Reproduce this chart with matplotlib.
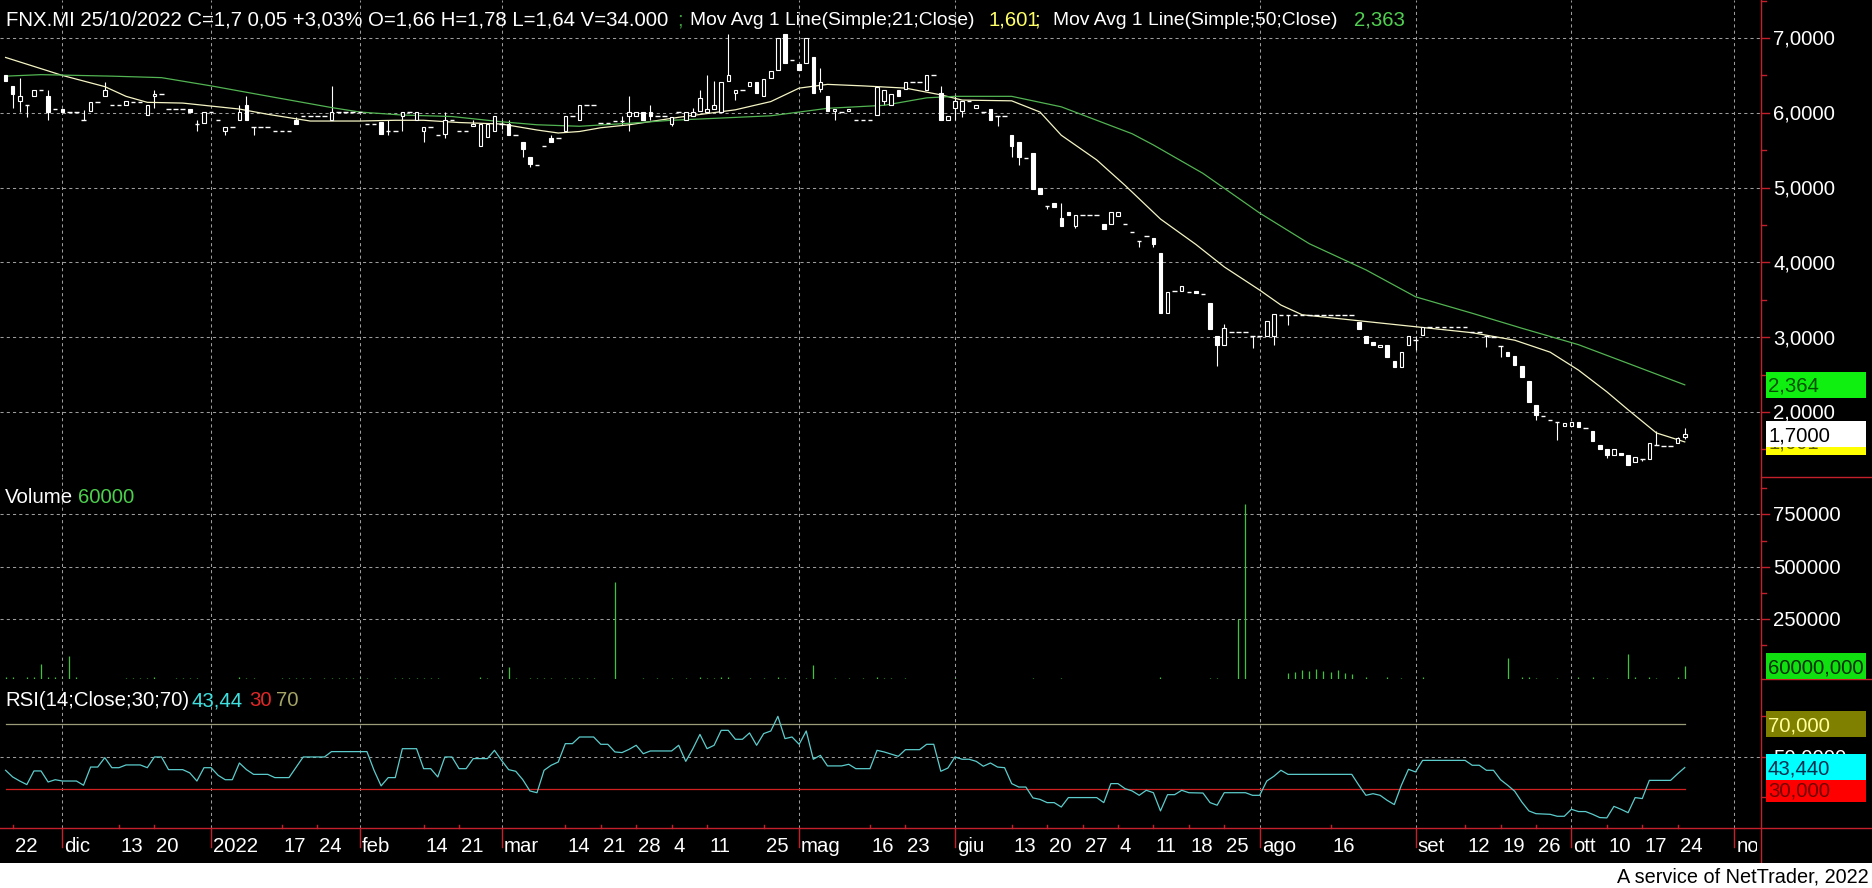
import matplotlib
matplotlib.use("Agg")
import matplotlib.pyplot as plt
from matplotlib.patches import Rectangle
import numpy as np

FONT = ['Liberation Sans', 'DejaVu Sans']
plt.rcParams['font.family'] = FONT

# ---------------- data (bar index 0 = 19/11/2021 ... 237 = 25/10/2022) ----------------
opens = [
 6.50, 6.36, 6.16, 6.10, 6.22, 6.31, 6.22, 6.05, 6.05, 6.01,
 6.01, 5.90, 6.02, 6.15, 6.22, 6.10, 6.10, 6.11, 6.15, 6.15,
 5.97, 6.22, 6.25, 6.05, 6.05, 6.05, 6.05, 5.85, 5.86, 6.01,
 5.90, 5.76, 5.81, 5.90, 6.10, 5.81, 5.81, 5.81, 5.75, 5.75,
 5.75, 5.90, 5.96, 5.96, 5.96, 5.96, 5.90, 6.01, 6.01, 6.01,
 6.01, 5.85, 5.85, 5.88, 5.75, 5.75, 5.96, 6.01, 5.90, 5.76,
 5.81, 5.70, 5.71, 5.90, 5.75, 5.75, 5.82, 5.56, 5.67, 5.76,
 5.85, 5.85, 5.70, 5.61, 5.41, 5.30, 5.55, 5.66, 5.66, 5.76,
 5.96, 5.90, 6.10, 6.10, 5.87, 5.87, 5.89, 5.89, 5.96, 5.96,
 6.01, 6.01, 5.96, 5.96, 5.85, 6.01, 5.90, 5.96, 6.02, 6.01,
 6.05, 6.01, 6.42, 6.26, 6.30, 6.36, 6.41, 6.22, 6.46, 6.57,
 7.05, 6.71, 6.65, 6.66, 6.75, 6.32, 6.22, 6.02, 6.01, 6.02,
 5.90, 5.90, 5.90, 5.97, 6.16, 6.11, 6.31, 6.32, 6.41, 6.41,
 6.31, 6.50, 6.26, 5.91, 6.06, 6.02, 6.16, 6.06, 6.01, 6.05,
 5.96, 5.96, 5.70, 5.61, 5.40, 5.46, 5.00, 4.75, 4.80, 4.59,
 4.68, 4.48, 4.63, 4.63, 4.63, 4.52, 4.52, 4.62, 4.51, 4.41,
 4.28, 4.35, 4.32, 4.12, 3.32, 3.62, 3.62, 3.61, 3.62, 3.58,
 3.46, 3.02, 2.90, 3.07, 3.07, 3.07, 3.01, 3.01, 3.02, 3.02,
 3.30, 3.30, 3.30, 3.30, 3.30, 3.30, 3.30, 3.30, 3.30, 3.30,
 3.30, 3.20, 3.02, 2.93, 2.87, 2.89, 2.68, 2.60, 2.90, 2.96,
 3.03, 3.13, 3.13, 3.13, 3.13, 3.13, 3.13, 3.07, 3.07, 3.02,
 3.00, 2.88, 2.80, 2.75, 2.61, 2.41, 2.09, 1.94, 1.89, 1.86,
 1.81, 1.81, 1.87, 1.79, 1.75, 1.56, 1.51, 1.42, 1.455, 1.42,
 1.33, 1.37, 1.37, 1.56, 1.55, 1.55, 1.59, 1.66]
highs = [
 6.50, 6.36, 6.46, 6.10, 6.31, 6.31, 6.31, 6.05, 6.05, 6.01,
 6.01, 6.04, 6.15, 6.15, 6.41, 6.10, 6.10, 6.16, 6.15, 6.15,
 6.10, 6.31, 6.25, 6.05, 6.05, 6.05, 6.05, 5.90, 6.01, 6.01,
 5.90, 5.81, 5.81, 6.10, 6.22, 5.81, 5.81, 5.81, 5.75, 5.75,
 5.75, 5.95, 5.96, 5.96, 5.96, 5.96, 6.36, 6.01, 6.01, 6.01,
 6.01, 5.85, 5.85, 5.88, 5.90, 5.75, 6.01, 6.01, 6.01, 5.81,
 5.81, 5.70, 6.01, 5.90, 5.75, 5.75, 5.90, 5.85, 5.85, 5.96,
 5.90, 5.90, 5.70, 5.61, 5.41, 5.30, 5.55, 5.70, 5.66, 5.96,
 5.96, 6.10, 6.10, 6.10, 5.87, 5.87, 5.89, 5.96, 6.22, 6.01,
 6.01, 6.10, 5.96, 5.96, 5.95, 6.01, 6.01, 6.06, 6.31, 6.50,
 6.42, 6.41, 7.05, 6.30, 6.30, 6.41, 6.41, 6.45, 6.56, 7.00,
 7.05, 6.71, 6.65, 7.00, 6.75, 6.60, 6.22, 6.05, 6.01, 6.05,
 5.90, 5.90, 5.90, 6.35, 6.31, 6.25, 6.31, 6.41, 6.41, 6.41,
 6.50, 6.50, 6.36, 5.96, 6.24, 6.16, 6.16, 6.10, 6.01, 6.05,
 5.96, 5.96, 5.70, 5.61, 5.40, 5.46, 5.00, 4.75, 4.80, 4.80,
 4.68, 4.63, 4.63, 4.63, 4.63, 4.52, 4.68, 4.68, 4.51, 4.41,
 4.28, 4.35, 4.32, 4.12, 3.61, 3.62, 3.69, 3.61, 3.62, 3.58,
 3.46, 3.02, 3.18, 3.07, 3.07, 3.07, 3.01, 3.01, 3.22, 3.31,
 3.30, 3.30, 3.30, 3.30, 3.30, 3.30, 3.30, 3.30, 3.30, 3.30,
 3.30, 3.20, 3.02, 2.93, 2.89, 2.89, 2.68, 2.80, 3.01, 3.01,
 3.13, 3.13, 3.13, 3.13, 3.13, 3.13, 3.13, 3.07, 3.07, 3.02,
 3.00, 2.88, 2.80, 2.75, 2.61, 2.41, 2.09, 1.94, 1.89, 1.86,
 1.855, 1.87, 1.87, 1.79, 1.75, 1.56, 1.51, 1.51, 1.455, 1.42,
 1.40, 1.37, 1.59, 1.74, 1.55, 1.55, 1.67, 1.78]
lows = [
 6.42, 6.06, 6.01, 5.95, 6.22, 6.31, 5.90, 6.05, 6.01, 6.01,
 6.01, 5.90, 6.02, 6.15, 6.22, 6.10, 6.10, 6.11, 6.15, 6.15,
 5.97, 6.06, 6.25, 6.05, 6.05, 6.05, 6.01, 5.75, 5.86, 6.01,
 5.90, 5.70, 5.81, 5.90, 5.90, 5.70, 5.81, 5.81, 5.75, 5.75,
 5.75, 5.85, 5.96, 5.96, 5.96, 5.96, 5.90, 6.01, 6.01, 6.01,
 6.01, 5.85, 5.85, 5.71, 5.70, 5.75, 5.76, 6.01, 5.90, 5.61,
 5.81, 5.70, 5.66, 5.90, 5.75, 5.75, 5.82, 5.56, 5.67, 5.76,
 5.79, 5.70, 5.70, 5.41, 5.27, 5.30, 5.55, 5.61, 5.66, 5.76,
 5.96, 5.90, 6.10, 6.10, 5.87, 5.87, 5.89, 5.84, 5.76, 5.96,
 5.90, 5.90, 5.96, 5.96, 5.82, 6.01, 5.90, 5.96, 6.02, 6.01,
 6.05, 6.01, 6.42, 6.17, 6.30, 6.36, 6.26, 6.22, 6.46, 6.57,
 6.66, 6.71, 6.57, 6.66, 6.26, 6.28, 6.02, 5.90, 6.01, 6.02,
 5.90, 5.90, 5.90, 5.97, 6.10, 6.11, 6.22, 6.32, 6.41, 6.41,
 6.31, 6.50, 5.90, 5.91, 5.90, 5.95, 6.16, 6.06, 6.01, 5.90,
 5.82, 5.96, 5.41, 5.30, 5.40, 4.98, 4.92, 4.71, 4.745, 4.48,
 4.63, 4.46, 4.63, 4.63, 4.63, 4.44, 4.52, 4.62, 4.51, 4.41,
 4.21, 4.35, 4.20, 3.32, 3.32, 3.62, 3.62, 3.61, 3.585, 3.58,
 3.11, 2.62, 2.90, 3.07, 3.07, 3.07, 2.85, 3.01, 3.02, 2.90,
 3.30, 3.16, 3.30, 3.30, 3.30, 3.30, 3.30, 3.30, 3.30, 3.30,
 3.30, 3.11, 2.92, 2.90, 2.87, 2.73, 2.60, 2.60, 2.90, 2.83,
 3.03, 3.13, 3.13, 3.13, 3.13, 3.13, 3.13, 3.07, 3.07, 2.87,
 3.00, 2.74, 2.75, 2.635, 2.465, 2.14, 1.89, 1.94, 1.89, 1.62,
 1.81, 1.81, 1.80, 1.79, 1.61, 1.50, 1.38, 1.42, 1.42, 1.29,
 1.33, 1.35, 1.37, 1.56, 1.55, 1.55, 1.59, 1.64]
closes = [
 6.42, 6.25, 6.22, 6.10, 6.31, 6.31, 6.01, 6.05, 6.01, 6.01,
 6.01, 5.90, 6.15, 6.15, 6.31, 6.10, 6.10, 6.16, 6.15, 6.15,
 6.10, 6.25, 6.25, 6.05, 6.05, 6.05, 6.01, 5.85, 6.01, 6.01,
 5.90, 5.81, 5.81, 6.01, 5.90, 5.81, 5.81, 5.81, 5.75, 5.75,
 5.75, 5.85, 5.96, 5.96, 5.96, 5.96, 6.01, 6.01, 6.01, 6.01,
 6.01, 5.85, 5.85, 5.71, 5.75, 5.75, 6.01, 6.01, 6.01, 5.81,
 5.81, 5.70, 5.90, 5.90, 5.75, 5.75, 5.85, 5.85, 5.85, 5.96,
 5.85, 5.70, 5.70, 5.51, 5.31, 5.30, 5.55, 5.61, 5.66, 5.96,
 5.96, 6.10, 6.10, 6.10, 5.87, 5.87, 5.89, 5.89, 6.01, 6.01,
 5.90, 5.96, 5.96, 5.96, 5.95, 6.01, 6.01, 6.01, 6.20, 6.05,
 6.10, 6.41, 6.50, 6.30, 6.30, 6.41, 6.26, 6.45, 6.56, 7.00,
 6.66, 6.71, 6.57, 7.00, 6.26, 6.41, 6.02, 6.05, 6.01, 6.05,
 5.90, 5.90, 5.90, 6.35, 6.31, 6.25, 6.22, 6.41, 6.41, 6.41,
 6.50, 6.50, 5.90, 5.96, 6.16, 6.16, 6.16, 6.10, 6.01, 5.90,
 5.96, 5.96, 5.55, 5.41, 5.40, 4.98, 4.92, 4.75, 4.745, 4.48,
 4.63, 4.63, 4.63, 4.63, 4.63, 4.44, 4.68, 4.68, 4.51, 4.41,
 4.28, 4.35, 4.25, 3.32, 3.61, 3.62, 3.69, 3.61, 3.585, 3.58,
 3.11, 2.90, 3.12, 3.07, 3.07, 3.07, 3.01, 3.01, 3.22, 3.31,
 3.30, 3.30, 3.30, 3.30, 3.30, 3.30, 3.30, 3.30, 3.30, 3.30,
 3.30, 3.11, 2.92, 2.90, 2.89, 2.73, 2.60, 2.80, 3.01, 2.96,
 3.13, 3.13, 3.13, 3.13, 3.13, 3.13, 3.13, 3.07, 3.07, 3.02,
 3.00, 2.88, 2.75, 2.635, 2.465, 2.14, 1.96, 1.94, 1.89, 1.86,
 1.855, 1.87, 1.80, 1.79, 1.61, 1.50, 1.42, 1.51, 1.42, 1.29,
 1.40, 1.37, 1.59, 1.56, 1.55, 1.55, 1.65, 1.70]
volumes = [
 8000, 10000, 0, 8000, 9000, 72000, 10000, 8000, 6000, 112000,
 8000, 0, 0, 0, 0, 0, 0, 6000, 5000, 7000,
 6000, 8000, 0, 0, 5000, 6000, 7000, 6000, 0, 0,
 0, 0, 0, 8000, 6000, 5000, 0, 0, 0, 5000,
 6000, 5000, 6000, 5000, 0, 5000, 6000, 5000, 6000, 5000,
 6000, 6000, 0, 0, 0, 5000, 6000, 5000, 6000, 5000,
 6000, 5000, 0, 0, 0, 0, 0, 8000, 5000, 0,
 0, 56000, 7000, 0, 5000, 6000, 5000, 6000, 0, 6000,
 5000, 6000, 5000, 6000, 0, 0, 466000, 0, 0, 0,
 6000, 0, 5000, 0, 7000, 0, 6000, 0, 8000, 6000,
 7000, 9000, 8000, 0, 0, 5000, 0, 6000, 0, 8000,
 7000, 0, 0, 6000, 67000, 0, 0, 6000, 0, 5000,
 0, 6000, 0, 8000, 6000, 7000, 0, 5000, 0, 0,
 0, 0, 0, 0, 5000, 0, 0, 0, 0, 0,
 0, 0, 0, 0, 0, 6000, 0, 0, 0, 5000,
 0, 0, 0, 0, 0, 0, 0, 0, 0, 0,
 0, 0, 0, 8000, 0, 0, 0, 0, 0, 0,
 6000, 7000, 0, 0, 289000, 837000, 0, 0, 0, 0,
 0, 30000, 35000, 45000, 40000, 50000, 40000, 35000, 45000, 30000,
 25000, 0, 8000, 0, 0, 10000, 0, 6000, 0, 0,
 8000, 0, 0, 0, 0, 0, 0, 0, 0, 0,
 0, 0, 100000, 0, 8000, 10000, 7000, 0, 0, 6000,
 0, 0, 8000, 0, 9000, 0, 6000, 0, 0, 120000,
 8000, 0, 10000, 6000, 0, 0, 9000, 60000]

ma21_points = [(0, 6.74), (8, 6.50), (14, 6.35), (17, 6.22), (20, 6.14), (25, 6.13), (29, 6.09),
               (33, 6.05), (37, 5.98), (43, 5.89), (50, 5.89), (55, 5.90), (59, 5.90), (64, 5.87),
               (70, 5.85), (75, 5.77), (78, 5.73), (81, 5.75), (84, 5.80), (88, 5.84), (95, 5.94),
               (103, 6.04), (108, 6.15), (112, 6.33), (116, 6.38), (121, 6.36), (127, 6.33),
               (132, 6.24), (135, 6.17), (142, 6.16), (146, 6.01), (149, 5.70), (154, 5.37),
               (158, 5.03), (163, 4.58), (168, 4.24), (172, 3.94), (177, 3.63), (180, 3.43),
               (183, 3.30), (190, 3.23), (199, 3.14), (207, 3.06), (213, 2.96), (218, 2.80),
               (222, 2.56), (226, 2.27), (229, 2.03), (233, 1.72), (236, 1.63), (237, 1.60)]
ma50_points = [(0, 6.49), (5, 6.51), (15, 6.49), (22, 6.47), (29, 6.36), (36, 6.24), (46, 6.07),
               (50, 6.01), (56, 5.97), (63, 5.95), (70, 5.88), (75, 5.84), (81, 5.82), (88, 5.86),
               (94, 5.90), (108, 5.96), (116, 6.06), (124, 6.10), (130, 6.20), (134, 6.22),
               (142, 6.22), (149, 6.08), (154, 5.90), (159, 5.72), (162, 5.57), (169, 5.19),
               (177, 4.66), (184, 4.25), (192, 3.90), (199, 3.54), (207, 3.32), (214, 3.12),
               (222, 2.90), (229, 2.65), (237, 2.363)]
rsi_points = [
 (0, 41.7), (1, 37.6), (2, 35.1), (3, 32.9), (4, 41.3), (5, 41.3), (6, 34.5), (7, 35.9), (8, 35.1),
 (10, 35.1), (11, 32.5), (12, 43.7), (13, 43.7), (14, 49.5), (15, 43.3), (16, 43.3), (17, 45.0),
 (19, 45.0), (20, 43.3), (21, 49.9), (22, 49.9), (23, 42.1), (25, 42.1), (26, 40.1), (27, 35.1),
 (28, 43.3), (29, 43.3), (30, 38.6), (31, 35.9), (32, 35.9), (33, 46.2), (34, 42.1), (35, 39.2),
 (37, 39.2), (38, 37.2), (40, 37.2), (42, 49.9), (45, 49.9), (46, 53.2), (51, 53.2), (52, 41.7),
 (53, 32.1), (54, 37.2), (55, 37.2), (56, 55.0), (58, 55.0), (59, 42.7), (60, 42.7), (61, 37.6),
 (62, 49.9), (63, 49.9), (64, 42.7), (65, 42.7), (66, 48.9), (68, 48.9), (69, 54.0), (70, 47.8),
 (71, 42.1), (72, 41.1), (73, 35.9), (74, 29.0), (75, 27.9), (76, 41.7), (77, 44.8), (78, 46.8),
 (79, 58.1), (80, 58.1), (81, 62.2), (83, 62.2), (84, 57.7), (85, 57.7), (86, 53.0), (87, 52.6),
 (88, 54.6), (89, 57.1), (90, 51.9), (91, 53.6), (94, 53.6), (95, 57.1), (96, 47.2), (97, 55.0),
 (98, 63.8), (99, 55.0), (100, 57.1), (101, 66.3), (102, 66.3), (103, 60.8), (104, 60.8),
 (105, 64.7), (106, 57.1), (107, 64.3), (108, 65.9), (109, 74.9), (110, 61.2), (111, 62.2),
 (112, 57.7), (113, 65.9), (114, 48.5), (115, 50.9), (116, 44.4), (118, 44.4), (119, 45.4),
 (120, 42.7), (122, 42.7), (123, 54.0), (124, 53.0), (126, 50.3), (127, 54.4), (129, 54.4),
 (130, 57.7), (131, 57.7), (132, 41.1), (133, 43.1), (134, 49.9), (135, 48.5), (136, 48.5),
 (137, 47.2), (138, 44.2), (139, 46.2), (140, 43.7), (141, 43.3), (142, 33.5), (143, 31.4),
 (144, 31.4), (145, 24.7), (146, 23.8), (147, 21.8), (148, 21.8), (149, 19.1), (150, 24.9),
 (154, 24.9), (155, 21.8), (156, 33.5), (157, 33.5), (158, 30.4), (159, 29.0), (160, 26.3),
 (161, 29.4), (162, 27.9), (163, 16.7), (164, 26.7), (165, 26.7), (166, 29.4), (167, 27.9),
 (169, 27.7), (170, 21.8), (171, 20.2), (172, 27.9), (175, 27.9), (176, 26.3), (177, 26.3),
 (178, 35.1), (179, 38.0), (180, 41.7), (181, 39.2), (190, 39.2), (191, 32.5), (192, 26.3),
 (193, 27.3), (194, 26.3), (195, 23.2), (196, 20.6), (197, 32.5), (198, 42.3), (199, 40.7),
 (200, 47.8), (206, 47.8), (207, 44.8), (208, 44.8), (209, 41.7), (210, 41.7), (211, 35.9),
 (212, 32.5), (213, 28.8), (214, 22.2), (215, 16.7), (216, 15.0), (218, 14.6), (219, 13.4),
 (220, 13.4), (221, 17.7), (222, 16.3), (223, 16.3), (224, 14.6), (225, 12.6), (226, 12.4),
 (227, 19.5), (228, 17.7), (229, 15.6), (230, 24.9), (231, 24.3), (232, 35.5), (235, 35.5),
 (236, 39.6), (237, 43.4)]

date_labels = ['22', 'dic', '13', '20', '2022', '17', '24', 'feb', '14', '21',
               'mar', '14', '21', '28', '4', '11', '25', 'mag', '16', '23',
               'giu', '13', '20', '27', '4', '11', '18', '25', 'ago', '16',
               'set', '12', '19', '26', 'ott', '10', '17', '24', 'nov']
date_label_idx = [1, 8, 16, 21, 29, 39, 44, 50, 59, 64,
                  70, 79, 84, 89, 94, 99, 107, 112, 122, 127,
                  134, 142, 147, 152, 157, 162, 167, 172, 177, 187,
                  199, 206, 211, 216, 221, 226, 231, 236, 244]
month_idx = [8, 29, 50, 70, 112, 134, 177, 199, 221, 244]
price_ticks = [2, 3, 4, 5, 6, 7]
price_tick_labels = ['2,0000', '3,0000', '4,0000', '5,0000', '6,0000', '7,0000']
price_minor = [1.5, 2.5, 3.5, 4.5, 5.5, 6.5, 7.5]
vol_ticks = [250000, 500000, 750000]
vol_tick_labels = ['250000', '500000', '750000']
vol_minor = [125000, 375000, 625000, 875000]

last_close, last_ma21, last_ma50 = 1.70, 1.601, 2.364
last_vol, last_rsi = 60000, 43.44

# ---------------- layout ----------------
W, H, DPI = 1872, 888, 100
fig = plt.figure(figsize=(W / DPI, H / DPI), dpi=DPI, facecolor='black')

def add_ax(x0, y0, x1, y1):
    ax = fig.add_axes([x0 / W, 1 - y1 / H, (x1 - x0) / W, (y1 - y0) / H])
    ax.set_facecolor('black')
    for s in ax.spines.values():
        s.set_visible(False)
    ax.set_xticks([]); ax.set_yticks([])
    return ax

XR = 1761
ax_p = add_ax(0, 0, XR, 477)
ax_v = add_ax(0, 477, XR, 679)
ax_r = add_ax(0, 679, XR, 828)
XLIM = (-0.79, 247.76)
for ax in (ax_p, ax_v, ax_r):
    ax.set_xlim(*XLIM)
ax_p.set_ylim(1.131, 7.508)
VOL_LO = -36800
ax_v.set_ylim(VOL_LO, 928800)
ax_r.set_ylim(6.18, 97.9)

ov = fig.add_axes([0, 0, 1, 1], zorder=10)
ov.set_xlim(0, W); ov.set_ylim(H, 0); ov.axis('off')
ov.patch.set_visible(False)

def px_x(ax, v):
    return ax.transData.transform((v, 0))[0]

def px_y(ax, v):
    return H - ax.transData.transform((0, v))[1]

GRID_C = '#9c9c9c'
GRID_LS = (0, (3, 3))
RED = '#c4202c'

# grids
for y in price_ticks:
    ax_p.axhline(y, color=GRID_C, lw=0.75, ls=GRID_LS, zorder=0.5)
for y in vol_ticks:
    ax_v.axhline(y, color=GRID_C, lw=0.75, ls=GRID_LS, zorder=0.5)
ax_r.axhline(50, color=GRID_C, lw=0.75, ls=GRID_LS, zorder=0.5)
for ax in (ax_p, ax_v, ax_r):
    for m in month_idx:
        ax.axvline(m, color=GRID_C, lw=0.75, ls=GRID_LS, zorder=0.5)

# candles
O = np.array(opens); Hh = np.array(highs); L = np.array(lows); C = np.array(closes)
idx = np.arange(len(C))
ax_p.vlines(idx, L, Hh, colors='white', lw=0.8, zorder=2)
up = C > O; dn = C < O; eq = C == O
ax_p.bar(idx[up], (C - O)[up], bottom=O[up], width=0.5, facecolor='black',
         edgecolor='white', lw=0.8, zorder=3)
ax_p.bar(idx[dn], (O - C)[dn], bottom=C[dn], width=0.5, facecolor='white',
         edgecolor='white', lw=0.8, zorder=3)
ax_p.hlines(C[eq], idx[eq] - 0.32, idx[eq] + 0.32, colors='white', lw=1.0, zorder=3)

m21 = np.array(ma21_points); m50 = np.array(ma50_points)
ax_p.plot(m21[:, 0], m21[:, 1], color='#f4f4c4', lw=0.9, zorder=2.5)
ax_p.plot(m50[:, 0], m50[:, 1], color='#52b452', lw=0.9, zorder=2.5)

# volume
V = np.array(volumes)
nz = V > 0
ax_v.vlines(idx[nz], VOL_LO, VOL_LO + V[nz], colors='#3cc43c', lw=0.9, zorder=2)

# RSI
rp = np.array(rsi_points)
ax_r.plot([0, idx[-1]], [70, 70], color='#9c9c78', lw=0.9, zorder=1)
ax_r.plot([0, idx[-1]], [30, 30], color='#d02020', lw=0.9, zorder=1)
ax_r.plot(rp[:, 0], rp[:, 1], color='#5ccccc', lw=0.9, zorder=2)

# ---------------- font size calibration ----------------
renderer = fig.canvas.get_renderer()

def fit_size(s, width, base=14.0):
    probe = ov.text(0, 0, s, fontsize=base)
    w = probe.get_window_extent(renderer).width
    probe.remove()
    return base * width / w

TITLE_MAIN = 'FNX.MI 25/10/2022 C=1,7 0,05 +3,03% O=1,66 H=1,78 L=1,64 V=34.000'
MA21_TXT = 'Mov Avg 1 Line(Simple;21;Close)'
MA50_TXT = 'Mov Avg 1 Line(Simple;50;Close)'
FS = fit_size(TITLE_MAIN, 668.0)
FS_MA = min(FS, fit_size(MA21_TXT, 285.0))

def txt(x, y, s, color='white', ha='left', fs=None, z=12, **kw):
    return ov.text(x, y, s, color=color, fontsize=fs or FS, ha=ha, va='baseline', zorder=z, **kw)

# title
txt(6, 25, TITLE_MAIN)
txt(677, 25, ';', color='#3e9a3e')
txt(690, 25, MA21_TXT, fs=FS_MA)
txt(989, 25, '1,601', color='#ffff66')
txt(1034, 25, ';', color='#ffff66')
txt(1053, 25, MA50_TXT, fs=FS_MA)
txt(1354, 25, '2,363', color='#50d050')

txt(5, 503, 'Volume')
txt(78, 503, '60000', color='#4cd04c')
txt(5, 706, 'RSI(14;Close;30;70)')
txt(191, 706, '43,44', color='#40e0e0')
txt(249, 706, '30', color='#e02828')
txt(276, 706, '70', color='#a4a468')

# right axis frame & ticks
ov.plot([XR, XR], [0, 863], color=RED, lw=1.0, zorder=11)
ov.plot([XR, W], [477, 477], color=RED, lw=1.0, zorder=11)
ov.plot([XR, W], [679, 679], color=RED, lw=1.0, zorder=11)
ov.plot([0, W], [828, 828], color=RED, lw=1.0, zorder=11)
for p in price_ticks:
    y = px_y(ax_p, p); ov.plot([XR, XR + 8], [y, y], color=RED, lw=1.0, zorder=11)
for p in price_minor:
    y = px_y(ax_p, p); ov.plot([XR, XR + 5], [y, y], color=RED, lw=1.0, zorder=11)
for v in vol_ticks:
    y = px_y(ax_v, v); ov.plot([XR, XR + 8], [y, y], color=RED, lw=1.0, zorder=11)
for v in vol_minor:
    y = px_y(ax_v, v); ov.plot([XR, XR + 5], [y, y], color=RED, lw=1.0, zorder=11)
for r in (25, 50, 75):
    y = px_y(ax_r, r); ov.plot([XR, XR + (8 if r == 50 else 5)], [y, y], color=RED, lw=1.0, zorder=11)

for p, lab in zip(price_ticks, price_tick_labels):
    txt(1773, px_y(ax_p, p) + 7, lab)
for v, lab in zip(vol_ticks, vol_tick_labels):
    txt(1773, px_y(ax_v, v) + 7, lab)
txt(1773, px_y(ax_r, 50) + 7, '50,0000')

def box(yc, face, label, tcolor, z):
    ov.add_patch(Rectangle((1766, yc - 13), 100, 26, facecolor=face, edgecolor='none', zorder=z))
    txt(1768, yc + 7, label, color=tcolor, z=z + 0.1)

box(px_y(ax_p, last_ma50), '#10f010', '2,364', '#005000', 13)
box(px_y(ax_p, last_ma21), '#ffff00', '1,601', '#606000', 13.2)
box(px_y(ax_p, last_close), '#ffffff', '1,7000', '#000000', 13.4)
box(px_y(ax_v, VOL_LO + last_vol), '#10e010', '60000,000', '#003000', 13)
box(px_y(ax_r, 70), '#808000', '70,000', '#ffff99', 13)
box(px_y(ax_r, 30), '#ff0000', '30,000', '#700000', 13.2)
box(px_y(ax_r, last_rsi), '#00ffff', '43,440', '#003050', 13.4)

# date axis
clip = Rectangle((0, 0), 1757, H, transform=ov.transData)
for i, lab in zip(date_label_idx, date_labels):
    x = px_x(ax_p, i)
    if i in month_idx:
        ov.plot([x, x], [828, 847], color=RED, lw=1.0, zorder=11)
    else:
        ov.plot([x, x], [825, 828], color=RED, lw=1.0, zorder=11)
    t = txt(x + 2, 852, lab, clip_on=True)
    t.set_clip_path(clip)

# bottom credit strip
ov.add_patch(Rectangle((0, 863), W, H - 863, facecolor='white', edgecolor='none', zorder=11))
credit = 'A service of NetTrader, 2022'
txt(1869, 882, credit, color='black', ha='right', fs=fit_size(credit, 252.0), z=12)

fig.savefig('out.png', dpi=DPI, facecolor='black')
